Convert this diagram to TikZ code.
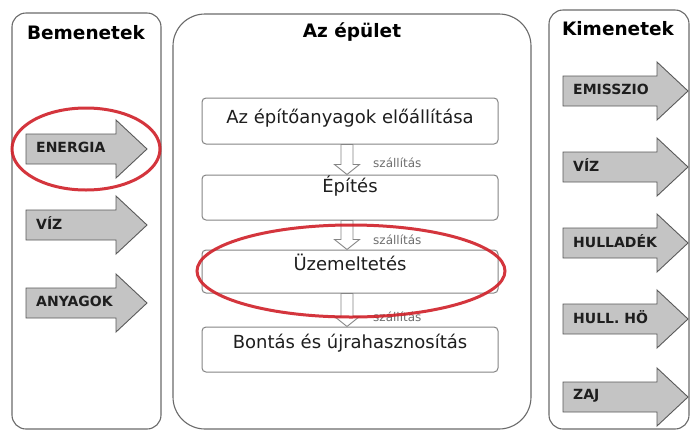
\documentclass[tikz,border=0pt]{standalone}
\usepackage{fontspec}
\setmainfont{DejaVu Sans}
\usetikzlibrary{calc}
\definecolor{panelline}{HTML}{6A6A6A}
\definecolor{boxline}{HTML}{858585}
\definecolor{arrfill}{HTML}{C4C4C4}
\definecolor{arrline}{HTML}{5A5A5A}
\definecolor{ringred}{HTML}{D02028}
\definecolor{labgray}{HTML}{6E6E6E}
\definecolor{darktext}{HTML}{1E1E1E}
\begin{document}
\begin{tikzpicture}[x=1pt,y=-1pt,
  panel/.style={draw=panelline, line width=1.1pt, fill=white, inner sep=0pt},
  title/.style={font=\fontsize{18.5}{21}\selectfont\bfseries, text=black, inner sep=0pt},
  stagebox/.style={draw=boxline, line width=1pt, rounded corners=4pt, fill=white, minimum width=296pt, inner sep=0pt},
  stagetext/.style={font=\fontsize{18}{21}\selectfont, text=darktext, anchor=base, inner sep=0pt},
  flowlab/.style={font=\fontsize{12}{14}\selectfont, text=labgray, anchor=west, inner sep=0pt},
  hollow/.style={draw=boxline, line width=0.9pt, fill=white, line join=miter},
  grayarr/.style={draw=arrline, line width=0.9pt, fill=arrfill, line join=miter},
  arrlab/.style={font=\fontsize{14}{16}\selectfont\bfseries, text=darktext, anchor=west, inner sep=0pt},
  redring/.style={draw=ringred, line width=3pt, opacity=0.9}
]
\useasboundingbox (0,0) rectangle (694,432);
\fill[white] (0,0) rectangle (694,432);

% panels
\node[panel, rounded corners=14pt, minimum width=149pt, minimum height=416pt] (inpanel) at (86.5,221) {};
\node[panel, rounded corners=32pt, minimum width=358pt, minimum height=415pt] (midpanel) at (352,221.5) {};
\node[panel, rounded corners=14pt, minimum width=140pt, minimum height=419pt] (outpanel) at (619,219.5) {};

% titles
\node[title] (tin) at (86,33) {Bemenetek};
\node[title] (tmid) at (352,32) {Az épület};
\node[title] (tout) at (618,29) {Kimenetek};

% block arrows: name, y centre, x left, body length, total length, text
\newcommand\blockarr[6]{%
  \draw[grayarr] (#3,#2-15) -- (#3+#4,#2-15) -- (#3+#4,#2-29) -- (#3+#5,#2)
     -- (#3+#4,#2+29) -- (#3+#4,#2+15) -- (#3,#2+15) -- cycle;
  \node[arrlab] (#1) at (#3+10,#2-1.5) {#6};}

\blockarr{inenergia}{149}{26}{90}{121}{ENERGIA}
\blockarr{inviz}{225}{26}{90}{121}{VÍZ}
\blockarr{inanyag}{303}{26}{90}{121}{ANYAGOK}

\blockarr{outemis}{91}{563}{94}{125}{EMISSZIO}
\blockarr{outviz}{167}{563}{94}{125}{VÍZ}
\blockarr{outhull}{243}{563}{94}{125}{HULLADÉK}
\blockarr{outho}{319}{563}{94}{125}{HULL. HÖ}
\blockarr{outzaj}{397}{563}{94}{125}{ZAJ}

% stage boxes
\node[stagebox, minimum height=46pt] (b1) at (350,121) {};
\node[stagebox, minimum height=45pt] (b2) at (350,197.5) {};
\node[stagebox, minimum height=43pt] (b3) at (350,271.5) {};
\node[stagebox, minimum height=45pt] (b4) at (350,349.5) {};

\node[stagetext] (t1) at (350,123) {Az építőanyagok előállítása};
\node[stagetext] (t2) at (350,192) {Építés};
\node[stagetext] (t3) at (350,270) {Üzemeltetés};
\node[stagetext] (t4) at (350,348) {Bontás és újrahasznosítás};

% hollow arrows between stages
\newcommand\hollowdown[2]{%
  \draw[hollow] ($(#1)+(-6,0)$) -- ($(#1)+(6,0)$) -- ($(#2)+(6,-10)$) -- ($(#2)+(12.5,-10)$)
     -- (#2) -- ($(#2)+(-12.5,-10)$) -- ($(#2)+(-6,-10)$) -- cycle;}
\coordinate (a1s) at ($(b1.south)+(-3,0)$);
\coordinate (a1e) at ($(b2.north)+(-3,0)$);
\coordinate (a2s) at ($(b2.south)+(-3,0)$);
\coordinate (a2e) at ($(b3.north)+(-3,0)$);
\coordinate (a3s) at ($(b3.south)+(-3,0)$);
\coordinate (a3e) at ($(b4.north)+(-3,0)$);
\hollowdown{a1s}{a1e}
\hollowdown{a2s}{a2e}
\hollowdown{a3s}{a3e}
\node[flowlab] (l1) at (373,163) {szállítás};
\node[flowlab] (l2) at (373,240) {szállítás};
\node[flowlab] (l3) at (373,317) {szállítás};

% red highlight rings
\draw[redring] (86,149) ellipse [x radius=74pt, y radius=41pt];
\draw[redring] (351,271) ellipse [x radius=154pt, y radius=46pt];
\end{tikzpicture}
\end{document}
